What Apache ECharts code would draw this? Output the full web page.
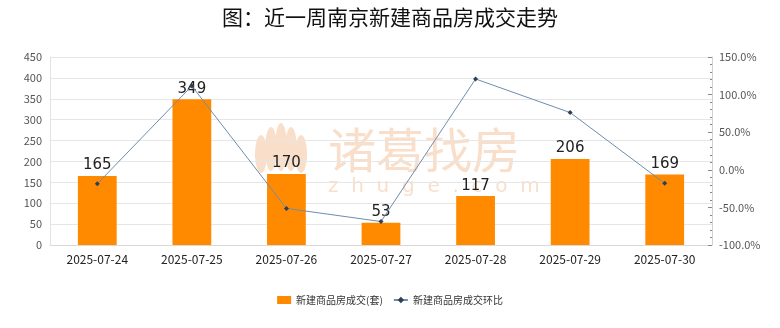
<!DOCTYPE html>
<html>
<head>
<meta charset="utf-8">
<script src="https://cdn.jsdelivr.net/npm/echarts@6/dist/echarts.min.js"></script>
<style>
html,body{margin:0;padding:0;background:#fff;}
#c{width:780px;height:328px;}
</style>
</head>
<body>
<div id="c"></div>
<script>
var categories = ['2025-07-24','2025-07-25','2025-07-26','2025-07-27','2025-07-28','2025-07-29','2025-07-30'];
var deals = [165, 349, 170, 53, 117, 206, 169];
var ratio = [-18.6, 111.5, -51.3, -68.8, 120.8, 76.1, -18.0];
var leftTicks = {min: 0, max: 450, interval: 50};
var rightTicks = {min: -100, max: 150, interval: 50};
var titleText = '图：近一周南京新建商品房成交走势';
var seriesNames = ['新建商品房成交(套)', '新建商品房成交环比'];

var FONT = '"Noto Sans CJK SC", "Noto Sans", sans-serif';
var WM = '#f9dfca';

var chart = echarts.init(document.getElementById('c'), null, {renderer: 'canvas'});
var petals = [];
var petalDefs = [[-20,4,6,19],[-10,-1,6,22],[0,-3,6,24],[10,-1,6,22],[20,4,6,19]];
petalDefs.forEach(function(p){
  petals.push({type:'ellipse', shape:{cx:281+p[0], cy:150+p[1], rx:p[2], ry:p[3]}, style:{fill:WM}, z:-10, silent:true});
});
chart.setOption({
  backgroundColor: '#fff',
  title: {
    text: titleText, left: 'center', top: 2,
    textStyle: {fontFamily: FONT, fontSize: 21, fontWeight: 'normal', color: '#111'}
  },
  graphic: petals.concat([
    {type:'text', left: 328, top: 126, z:-10, silent:true,
     style:{text:'诸葛找房', fill: WM, font: 'normal 48px "Noto Sans CJK SC"'}},
    {type:'text', left: 328, top: 177, z:-10, silent:true,
     style:{text:'z  h  u  g  e  .  c  o  m', fill: WM, font: 'normal 20px "DejaVu Sans"'}}
  ]),
  legend: {
    top: 290, left: 'center', itemGap: 10,
    textStyle: {fontFamily: FONT, fontSize: 10, color: '#333'},
    data: [
      {name: seriesNames[0], icon: 'rect', itemStyle: {color: '#ff8a00'}},
      {name: seriesNames[1]}
    ],
    itemWidth: 14, itemHeight: 8
  },
  grid: {left: 50, right: 68, top: 57, bottom: 83},
  xAxis: {
    type: 'category', data: categories,
    axisLine: {lineStyle: {color: '#d9d9d9'}},
    axisTick: {show: false},
    axisLabel: {fontFamily: FONT, fontSize: 12, color: '#222', margin: 8}
  },
  yAxis: [
    {type: 'value', min: leftTicks.min, max: leftTicks.max, interval: leftTicks.interval,
     axisLine: {show: true, lineStyle: {color: '#e3e3e3'}},
     axisTick: {show: false},
     splitLine: {lineStyle: {color: '#e6e6e6'}},
     axisLabel: {fontFamily: FONT, fontSize: 11, color: '#555', margin: 8}},
    {type: 'value', min: rightTicks.min, max: rightTicks.max, interval: rightTicks.interval,
     axisLine: {show: true, lineStyle: {color: '#d0d0d0'}},
     axisTick: {show: true, inside: true, length: 4, lineStyle: {color: '#888'}},
     minorTick: {show: true, splitNumber: 5, length: 2, lineStyle: {color: '#888'}},
     splitLine: {show: false},
     axisLabel: {fontFamily: FONT, fontSize: 11, color: '#555', margin: 7,
       formatter: function(v){ return v.toFixed(1) + '%'; }}}
  ],
  series: [
    {name: seriesNames[0], type: 'bar', data: deals, barWidth: '41%', z: 2,
     itemStyle: {color: '#ff8a00'},
     label: {show: true, position: 'top', distance: 3, fontFamily: '"DejaVu Sans", sans-serif', fontSize: 15, color: '#222'}},
    {name: seriesNames[1], type: 'line', yAxisIndex: 1, data: ratio, z: 3,
     symbol: 'diamond', symbolSize: 5, showSymbol: true,
     lineStyle: {color: '#6f8db0', width: 1},
     itemStyle: {color: '#2f3f55'}}
  ],
  animation: false
});
</script>
</body>
</html>
